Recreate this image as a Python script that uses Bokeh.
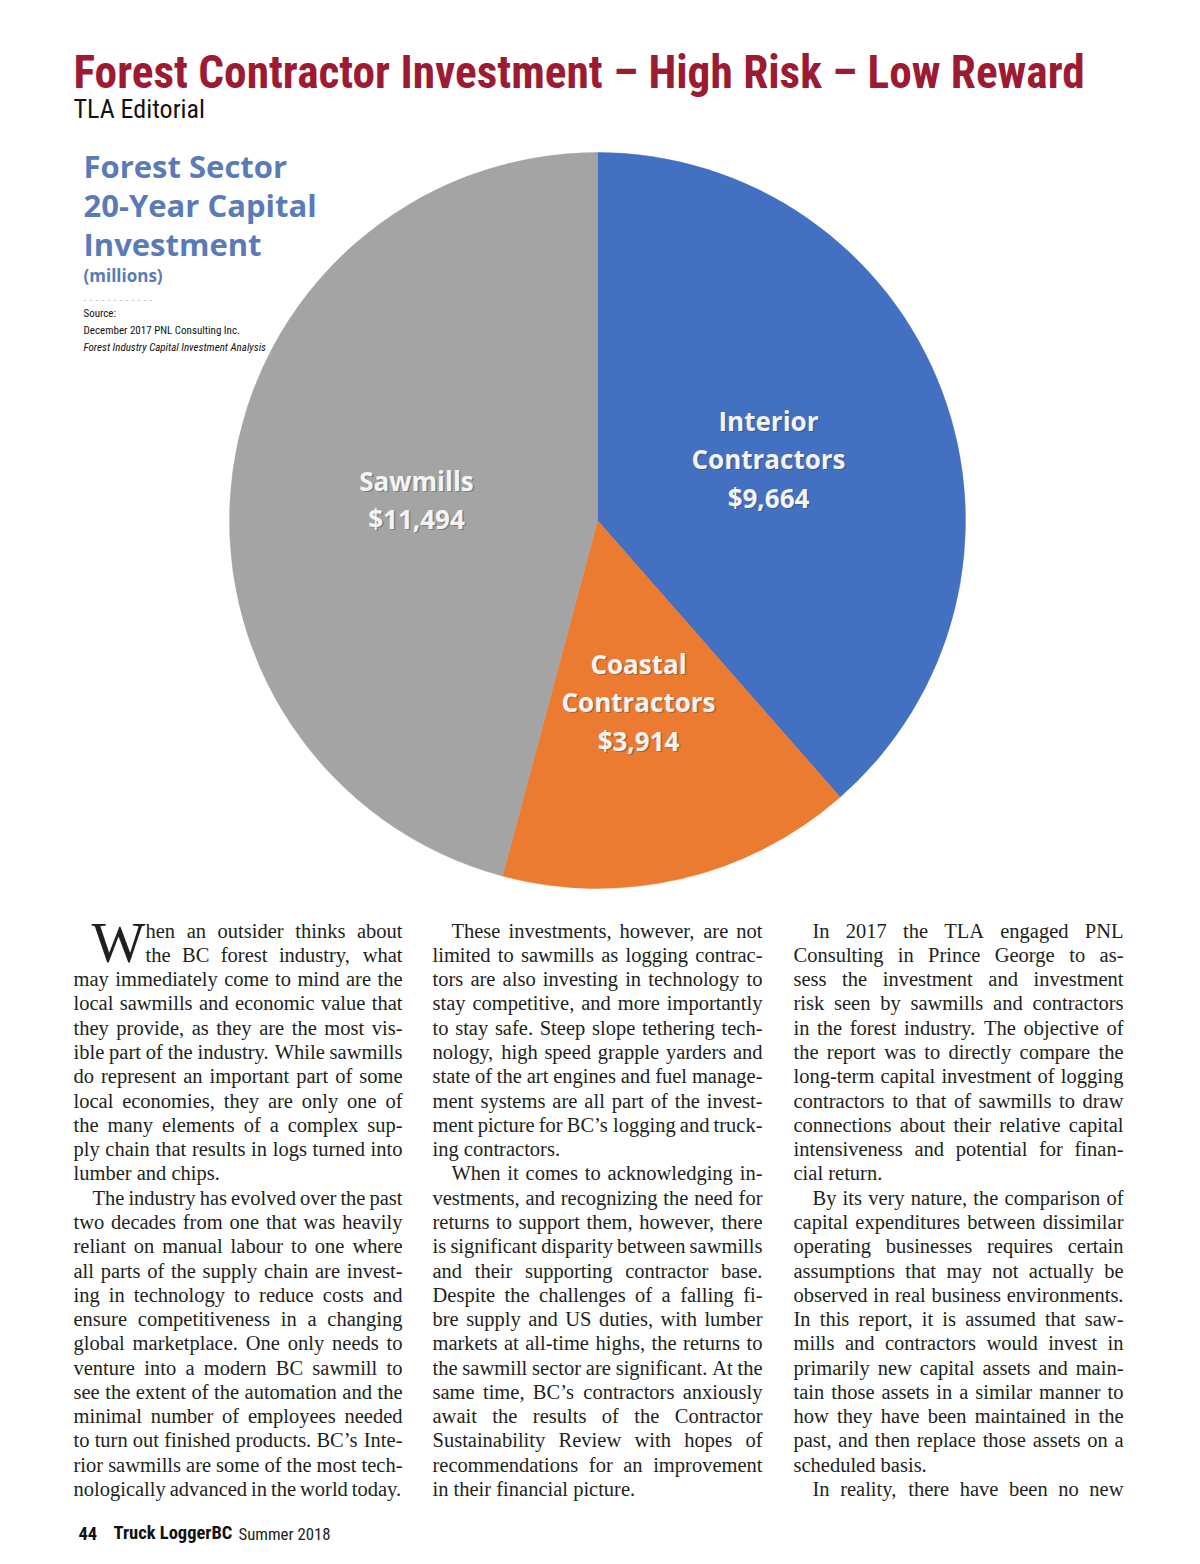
import numpy as np
from bokeh.plotting import figure
from bokeh.models import ColumnDataSource, Range1d
from bokeh.core.properties import value
from bokeh.embed import file_html
from bokeh.resources import INLINE

# ---------------- data ----------------
categories = ["Interior Contractors", "Coastal Contractors", "Sawmills"]
label_lines = [["Interior", "Contractors"], ["Coastal", "Contractors"], ["Sawmills"]]
investment = [9664, 3914, 11494]          # $ millions, 20-year capital investment
slice_colors = ["#4470C2", "#EC7B32", "#A4A4A4"]

page_title = "Forest Contractor Investment \u2013 High Risk \u2013 Low Reward"
byline = "TLA Editorial"
chart_title = ["Forest Sector", "20-Year Capital", "Investment"]
chart_unit = "(millions)"
source_lines = ["Source:", "December 2017 PNL Consulting Inc.",
                "Forest Industry Capital Investment Analysis"]
footer = ["44", "Truck LoggerBC", "Summer 2018"]

# body text: (code, line)  dc = beside drop cap, j = justified, l = last line, i* = indented
col1 = [
    ("dc", "hen an outsider thinks about"),
    ("dc", "the BC forest industry, what"),
    ("j", "may immediately come to mind are the"),
    ("j", "local sawmills and economic value that"),
    ("j", "they provide, as they are the most vis-"),
    ("j", "ible part of the industry. While sawmills"),
    ("j", "do represent an important part of some"),
    ("j", "local economies, they are only one of"),
    ("j", "the many elements of a complex sup-"),
    ("j", "ply chain that results in logs turned into"),
    ("l", "lumber and chips."),
    ("ij", "The industry has evolved over the past"),
    ("j", "two decades from one that was heavily"),
    ("j", "reliant on manual labour to one where"),
    ("j", "all parts of the supply chain are invest-"),
    ("j", "ing in technology to reduce costs and"),
    ("j", "ensure competitiveness in a changing"),
    ("j", "global marketplace.  One only needs to"),
    ("j", "venture into a modern BC sawmill to"),
    ("j", "see the extent of the automation and the"),
    ("j", "minimal number of employees needed"),
    ("j", "to turn out finished products.  BC\u2019s Inte-"),
    ("j", "rior sawmills are some of the most tech-"),
    ("j", "nologically advanced in the world today."),
]
col2 = [
    ("ij", "These investments, however, are not"),
    ("j", "limited to sawmills as logging contrac-"),
    ("j", "tors are also investing in technology to"),
    ("j", "stay competitive, and more importantly"),
    ("j", "to stay safe. Steep slope tethering tech-"),
    ("j", "nology, high speed grapple yarders and"),
    ("j", "state of the art engines and fuel manage-"),
    ("j", "ment systems are all part of the invest-"),
    ("j", "ment picture for BC\u2019s logging and truck-"),
    ("l", "ing contractors."),
    ("ij", "When it comes to acknowledging in-"),
    ("j", "vestments, and recognizing the need for"),
    ("j", "returns to support them, however, there"),
    ("j", "is significant disparity between sawmills"),
    ("j", "and their supporting contractor base."),
    ("j", "Despite the challenges of a falling fi-"),
    ("j", "bre supply and US duties, with lumber"),
    ("j", "markets at all-time highs, the returns to"),
    ("j", "the sawmill sector are significant. At the"),
    ("j", "same time, BC\u2019s contractors anxiously"),
    ("j", "await the results of the Contractor"),
    ("j", "Sustainability Review with hopes of"),
    ("j", "recommendations for an improvement"),
    ("l", "in their financial picture."),
]
col3 = [
    ("ij", "In 2017 the TLA engaged PNL"),
    ("j", "Consulting in Prince George to as-"),
    ("j", "sess the investment and investment"),
    ("j", "risk seen by sawmills and contractors"),
    ("j", "in the forest industry. The objective of"),
    ("j", "the report was to directly compare the"),
    ("j", "long-term capital investment of logging"),
    ("j", "contractors to that of sawmills to draw"),
    ("j", "connections about their relative capital"),
    ("j", "intensiveness and potential for finan-"),
    ("l", "cial return."),
    ("ij", "By its very nature, the comparison of"),
    ("j", "capital expenditures between dissimilar"),
    ("j", "operating businesses requires certain"),
    ("j", "assumptions that may not actually be"),
    ("j", "observed in real business environments."),
    ("j", "In this report, it is assumed that saw-"),
    ("j", "mills and contractors would invest in"),
    ("j", "primarily new capital assets and main-"),
    ("j", "tain those assets in a similar manner to"),
    ("j", "how they have been maintained in the"),
    ("j", "past, and then replace those assets on a"),
    ("l", "scheduled basis."),
    ("ij", "In reality, there have been no new"),
]

# ---------------- figure ----------------
W, H = 1184, 1548


def Y(py):
    return 1548 - py


p = figure(width=W, height=H, x_range=Range1d(0, 1184), y_range=Range1d(0, 1548),
           output_backend="svg", toolbar_location=None,
           x_axis_type=None, y_axis_type=None, min_border=0)
p.outline_line_color = None
p.background_fill_color = "white"
p.border_fill_color = "white"

COND = "Roboto Condensed"
K_ROB, K_SERIF, K_OPEN = 0.342, 0.3375, 0.388   # baseline -> em-box middle offsets


def put(x, base, txt, font, size, color, style="normal", k=K_ROB, align="left"):
    p.text(x=[x], y=[Y(base - k * size)], text=[txt], text_font=value(font),
           text_font_style=style, text_font_size="%.1fpx" % size, text_color=color,
           text_baseline="middle", text_align=align)


# headline
put(73, 87, page_title, COND, 45.3, "#9D1B32", style="bold")
put(73, 117, byline, COND, 26, "#111111")

# ---------------- pie ----------------
vals = np.array(investment, dtype=float)
frac = vals / vals.sum()
cum = np.concatenate([[0.0], np.cumsum(frac)])
pie = ColumnDataSource(dict(cat=categories, val=investment, color=slice_colors,
                            start=np.pi / 2 - 2 * np.pi * cum[:-1],
                            end=np.pi / 2 - 2 * np.pi * cum[1:]))
CX, CY, R = 597, Y(520), 368
p.wedge(x=CX, y=CY, radius=R, start_angle="start", end_angle="end", direction="clock",
        fill_color="color", line_color="color", line_width=0.5, source=pie)

# slice labels
label_pos = [(768, [420, 458, 497]), (638, [663, 701, 740]), (416, [480, 518])]
lx, ly, lt = [], [], []
for (x, ys), names, v in zip(label_pos, label_lines, investment):
    for name, yy in zip(names + ["${:,}".format(v)], ys):
        lx.append(x)
        ly.append(Y(yy))
        lt.append(name)
p.text(x=[a + 1.5 for a in lx], y=[b - 1.5 for b in ly], text=lt, text_font=value("Open Sans"),
       text_font_style="bold", text_font_size="26px", text_color="#333333", text_alpha=0.35,
       text_align="center", text_baseline="middle")
p.text(x=lx, y=ly, text=lt, text_font=value("Open Sans"), text_font_style="bold",
       text_font_size="26px", text_color="#F4F4F4", text_align="center", text_baseline="middle")

# chart title block
TB = "#5A7BB7"
for line, yy in zip(chart_title, [178, 217, 256]):
    put(83, yy, line, "Open Sans", 31, TB, style="bold", k=K_OPEN)
put(83, 282, chart_unit, "Open Sans", 17, TB, style="bold", k=K_OPEN)
p.segment(x0=[83], y0=[Y(300)], x1=[152], y1=[Y(300)], line_color="#CFCFCF", line_width=1,
          line_dash="3 3")
for line, yy, st in zip(source_lines, [317, 334, 351], ["normal", "normal", "italic"]):
    put(83, yy, line, COND, 11, "#111111", style=st)

# ---------------- body text (justified) ----------------
TIMES = {' ': 250, '!': 333, '$': 500, ',': 250, '-': 333, '.': 250, ':': 278, ';': 278,
         '(': 333, ')': 333, "'": 180, '\u2019': 333, '?': 444,
         'A': 722, 'B': 667, 'C': 667, 'D': 722, 'E': 611, 'F': 556, 'G': 722, 'H': 722,
         'I': 333, 'J': 389, 'K': 722, 'L': 611, 'M': 889, 'N': 722, 'O': 722, 'P': 556,
         'Q': 722, 'R': 667, 'S': 556, 'T': 611, 'U': 722, 'V': 722, 'W': 944, 'X': 722,
         'Y': 722, 'Z': 611,
         'a': 444, 'b': 500, 'c': 444, 'd': 500, 'e': 444, 'f': 333, 'g': 500, 'h': 500,
         'i': 278, 'j': 278, 'k': 500, 'l': 278, 'm': 778, 'n': 500, 'o': 500, 'p': 500,
         'q': 500, 'r': 333, 's': 389, 't': 278, 'u': 500, 'v': 500, 'w': 722, 'x': 500,
         'y': 500, 'z': 444}


def em(s):
    return sum(TIMES.get(c, 500) for c in s) / 1000.0


BODY = 20.5
BASE0, PITCH = 937.0, 24.28
INDENT = 19
columns = [(73, 402, col1), (432, 762, col2), (793, 1123, col3)]
bx, by, bt, bs = [], [], [], []
for x0, x1, lines in columns:
    for i, (code, line) in enumerate(lines):
        base = BASE0 + i * PITCH
        if code == "dc":
            xs = 145
        elif code.startswith("i"):
            xs = x0 + INDENT
        else:
            xs = x0
        words = line.split()
        wem = [em(w) for w in words]
        size = BODY
        n = len(words)
        avail = x1 - xs
        justify = code in ("dc", "j", "ij")
        if justify and n > 1:
            gap = (avail - sum(wem) * size) / (n - 1)
            if gap < 0.17 * size:
                size = avail / (sum(wem) + 0.17 * (n - 1))
                gap = 0.17 * size
        else:
            gap = 0.25 * size
        x = xs
        for w, e in zip(words, wem):
            bx.append(x)
            by.append(Y(base - K_SERIF * size))
            bt.append(w)
            bs.append("%.2fpx" % size)
            x += e * size + gap

body = ColumnDataSource(dict(x=bx, y=by, text=bt, size=bs))
p.text(x="x", y="y", text="text", text_font_size="size", source=body,
       text_font=value("Liberation Serif"), text_color="#231F20",
       text_baseline="middle", text_align="left")

# drop cap
put(91, 961.5, "W", "Liberation Serif", 57, "#231F20", k=K_SERIF)

# ---------------- footer ----------------
put(78, 1539, footer[0], COND, 18.5, "#111111", style="bold")
put(113, 1539, footer[1], COND, 18.5, "#111111", style="bold")
put(238, 1539, footer[2], COND, 16.8, "#222222")

open("out.html", "w").write(file_html(p, INLINE))
